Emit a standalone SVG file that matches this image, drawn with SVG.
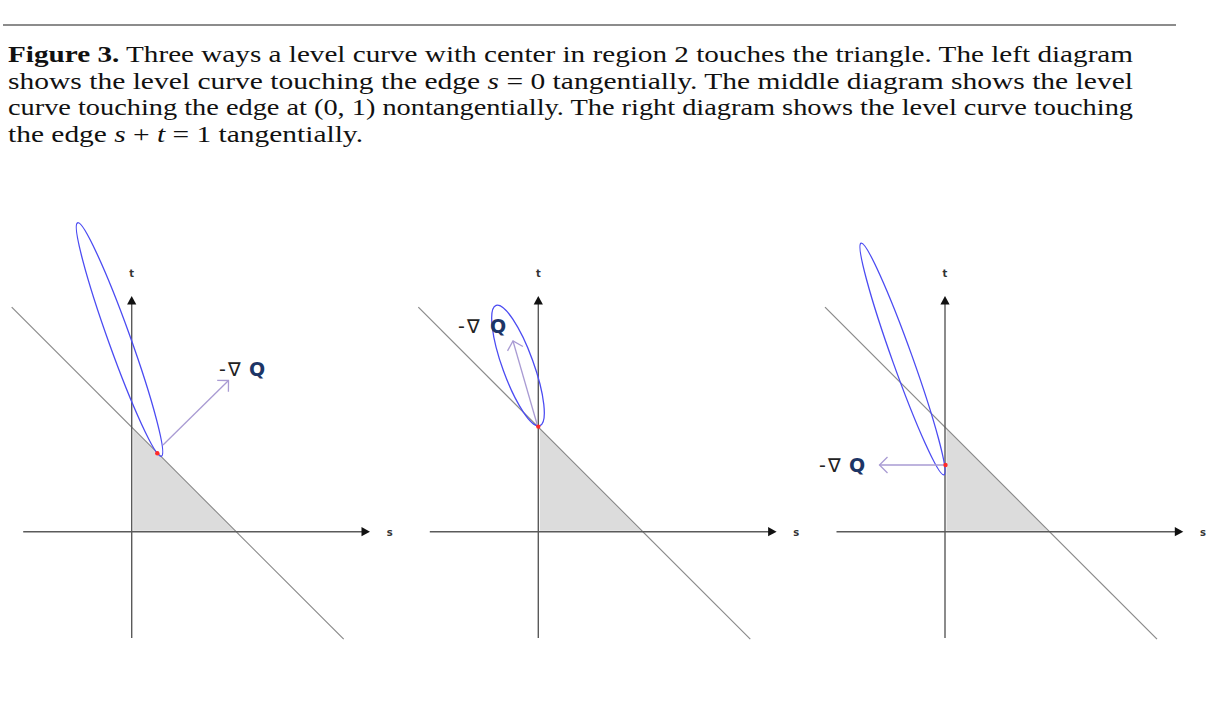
<svg xmlns="http://www.w3.org/2000/svg" width="1210" height="709" viewBox="0 0 1210 709">
<style>
.cap{font-family:"Liberation Serif","DejaVu Serif",serif;font-size:24px;fill:#111}
.it{font-style:italic}
.ax{stroke:#5a5a5a;stroke-width:1.4;fill:none}
.diag{stroke:#8a8a8a;stroke-width:1.2;fill:none}
.tri{fill:#dcdcdc}
.ah{fill:#111}
.axl{font-family:"DejaVu Sans",sans-serif;font-size:10px;font-weight:bold;fill:#333;text-anchor:middle}
.ell{fill:none;stroke:#4b4bf2;stroke-width:1.3}
.dot{fill:#ff2a2a}
.grad{stroke:#a99bd3;stroke-width:1.3;fill:none}
.lbl{font-family:"DejaVu Sans",sans-serif;font-size:19px;fill:#222}
.q{fill:#1d3566;font-weight:bold}
</style>
<defs>
<marker id="chev" viewBox="0 0 18 18" refX="9" refY="9" markerWidth="18" markerHeight="18" markerUnits="userSpaceOnUse" orient="auto">
<path d="M1,1 L9,9 L1,17" fill="none" stroke="#a99bd3" stroke-width="1.3"/>
</marker>
<g id="axes">
<polygon class="tri" points="1.5,-102 1.5,-1 102.5,-1"/>
<line class="diag" x1="-120" y1="-224.5" x2="212" y2="107.5"/>
<line class="ax" x1="0" y1="106.3" x2="0" y2="-228"/>
<line class="ax" x1="-108.5" y1="0" x2="231" y2="0"/>
<polygon class="ah" points="0,-235.7 -4.6,-227.2 4.6,-227.2"/>
<polygon class="ah" points="238.3,0 229.8,-4.6 229.8,4.6"/>
<text class="axl" x="0" y="-255">t</text>
<text class="axl" x="258" y="4">s</text>
</g>
</defs>

<line x1="3" y1="25" x2="1176" y2="25" stroke="#666" stroke-width="1.3"/>

<g id="caption">
<text class="cap" x="8" y="62" textLength="1125" lengthAdjust="spacingAndGlyphs"><tspan font-weight="bold">Figure 3.</tspan> Three ways a level curve with center in region 2 touches the triangle. The left diagram</text>
<text class="cap" x="8" y="88.5" textLength="1125" lengthAdjust="spacingAndGlyphs">shows the level curve touching the edge <tspan class="it">s</tspan> = 0 tangentially. The middle diagram shows the level</text>
<text class="cap" x="8" y="115" textLength="1125" lengthAdjust="spacingAndGlyphs">curve touching the edge at (0, 1) nontangentially. The right diagram shows the level curve touching</text>
<text class="cap" x="8" y="141.5" textLength="355" lengthAdjust="spacingAndGlyphs">the edge <tspan class="it">s</tspan> + <tspan class="it">t</tspan> = 1 tangentially.</text>
</g>

<g id="left-diagram">
<use href="#axes" transform="translate(131.7,531.7)"/>
<ellipse class="ell" cx="0" cy="0" rx="124" ry="11" transform="translate(119.5,339.5) rotate(70.25)"/>
<line class="grad" x1="163" y1="445" x2="228.5" y2="380.5" marker-end="url(#chev)"/>
<circle class="dot" cx="157.3" cy="453.3" r="2.2"/>
<text class="lbl" x="219 228 249" y="376">-∇<tspan class="q">Q</tspan></text>
</g>

<g id="middle-diagram">
<use href="#axes" transform="translate(538.3,531.7)"/>
<ellipse class="ell" cx="0" cy="0" rx="64" ry="15.5" transform="translate(518,365.5) rotate(70)"/>
<line class="grad" x1="537" y1="424" x2="513" y2="341" marker-end="url(#chev)"/>
<circle class="dot" cx="538.3" cy="426.6" r="2.2"/>
<text class="lbl" x="458 467 490" y="333">-∇<tspan class="q">Q</tspan></text>
</g>

<g id="right-diagram">
<use href="#axes" transform="translate(945,531.7)"/>
<ellipse class="ell" cx="0" cy="0" rx="123" ry="10" transform="translate(902.5,359) rotate(70.3)"/>
<line class="grad" x1="945" y1="465" x2="879.5" y2="465" marker-end="url(#chev)"/>
<circle class="dot" cx="945.5" cy="465" r="2.2"/>
<text class="lbl" x="819 828 849" y="472">-∇<tspan class="q">Q</tspan></text>
</g>
</svg>
